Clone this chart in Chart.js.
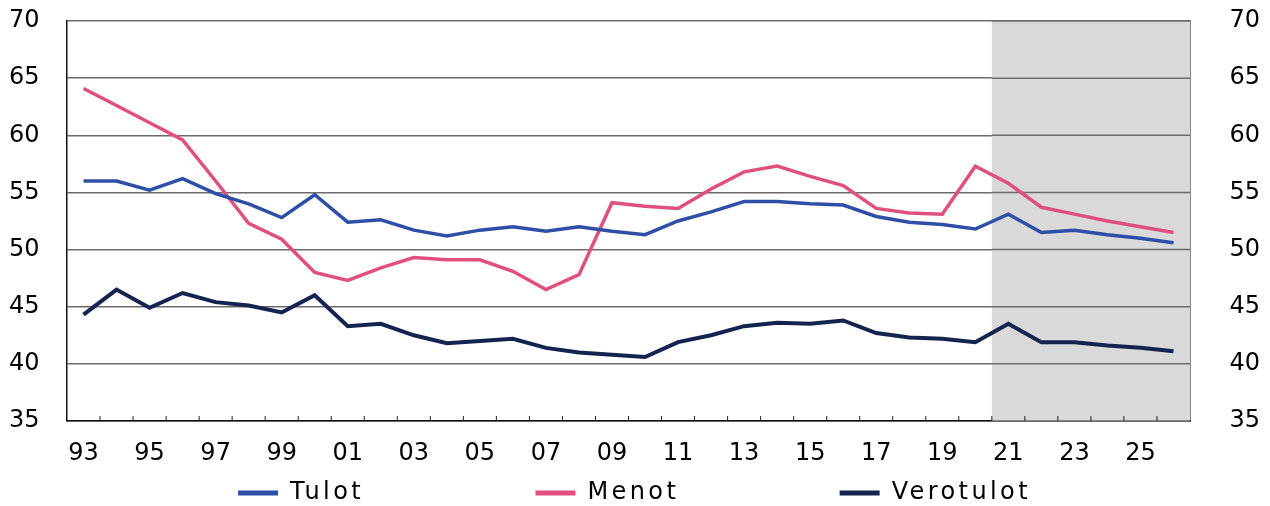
<!DOCTYPE html>
<html>
<head>
<meta charset="utf-8">
<script src="https://cdn.jsdelivr.net/npm/chart.js@4.4.1/dist/chart.umd.min.js"></script>
<style>
  html, body { margin: 0; padding: 0; background: #fff; }
  #wrap { width: 1270px; height: 506px; }
</style>
</head>
<body>
<div id="wrap"><canvas id="chart"></canvas></div>
<script>
const years = ["93","94","95","96","97","98","99","00","01","02","03","04","05","06","07","08","09",
  "10","11","12","13","14","15","16","17","18","19","20","21","22","23","24","25","26"];
const tulot = [56.0, 56.0, 55.2, 56.2, 54.9, 54.0, 52.8, 54.8, 52.4, 52.6, 51.7, 51.2, 51.7, 52.0, 51.6, 52.0, 51.6,
  51.3, 52.5, 53.3, 54.2, 54.2, 54.0, 53.9, 52.9, 52.4, 52.2, 51.8, 53.1, 51.5, 51.7, 51.3, 51.0, 50.6];
const menot = [64.1, 62.6, 61.1, 59.6, 56.0, 52.3, 50.9, 48.0, 47.3, 48.4, 49.3, 49.1, 49.1, 48.1, 46.5, 47.8, 54.1,
  53.8, 53.6, 55.3, 56.8, 57.3, 56.4, 55.6, 53.6, 53.2, 53.1, 57.3, 55.8, 53.7, 53.1, 52.5, 52.0, 51.5];
const verotulot = [44.3, 46.5, 44.9, 46.2, 45.4, 45.1, 44.5, 46.0, 43.3, 43.5, 42.5, 41.8, 42.0, 42.2, 41.4, 41.0, 40.8,
  40.6, 41.9, 42.5, 43.3, 43.6, 43.5, 43.8, 42.7, 42.3, 42.2, 41.9, 43.5, 41.9, 41.9, 41.6, 41.4, 41.1];
const yTicks = [35, 40, 45, 50, 55, 60, 65, 70];
const forecastFrom = "21";

const FONT = "'DejaVu Sans', sans-serif";
const legendGaps = [15, 14, 0]; // trailing spaces after each legend label
const LEGEND_SPACING = "3.4px";

// legend: wide letter spacing + fixed height; grey forecast band + inward ticks on x axis
const bandPlugin = {
  id: "band",
  beforeInit(chart) {
    const lg = chart.legend;
    const fit = lg.fit, draw = lg.draw;
    lg.fit = function () {
      this.ctx.save();
      this.ctx.letterSpacing = LEGEND_SPACING;
      fit.call(this);
      this.ctx.restore();
      this.height = 35;
    };
    lg.draw = function () {
      this.ctx.save();
      this.ctx.letterSpacing = LEGEND_SPACING;
      this.ctx.translate(0, 4);
      draw.call(this);
      this.ctx.restore();
    };
  },
  beforeDatasetsDraw(chart) {
    const { ctx, chartArea, scales } = chart;
    const x = scales.x;
    const i = years.indexOf(forecastFrom);
    const left = (x.getPixelForValue(i - 1) + x.getPixelForValue(i)) / 2;
    ctx.save();
    ctx.fillStyle = "#d9d9d9";
    ctx.fillRect(left, chartArea.top, chartArea.right - left, chartArea.bottom - chartArea.top);
    ctx.strokeStyle = "#6b6b6b";
    ctx.lineWidth = 1.5;
    scales.y.ticks.forEach(t => {
      const yy = scales.y.getPixelForValue(t.value);
      ctx.beginPath();
      ctx.moveTo(left, yy);
      ctx.lineTo(chartArea.right, yy);
      ctx.stroke();
    });
    ctx.strokeStyle = "#222";
    ctx.lineWidth = 1;
    for (let k = 1; k < years.length; k++) {
      const px = (x.getPixelForValue(k - 1) + x.getPixelForValue(k)) / 2;
      ctx.beginPath();
      ctx.moveTo(px, chartArea.bottom);
      ctx.lineTo(px, chartArea.bottom - 5);
      ctx.stroke();
    }
    ctx.restore();
  }
};

new Chart(document.getElementById("chart"), {
  type: "line",
  data: {
    labels: years,
    datasets: [
      { label: "Tulot", data: tulot, borderColor: "#2f4fa6", backgroundColor: "#2f4fa6", borderWidth: 3.5 },
      { label: "Menot", data: menot, borderColor: "#e0507f", backgroundColor: "#e0507f", borderWidth: 3.5 },
      { label: "Verotulot", data: verotulot, borderColor: "#14244f", backgroundColor: "#14244f", borderWidth: 4 }
    ]
  },
  options: {
    responsive: true,
    maintainAspectRatio: false,
    animation: false,
    devicePixelRatio: 1,
    layout: { padding: { top: 21, left: 9, right: 10, bottom: 0 } },
    elements: { point: { radius: 0 }, line: { tension: 0 } },
    plugins: {
      tooltip: { enabled: false },
      legend: {
        position: "bottom",
        labels: {
          boxWidth: 40,
          boxHeight: 5,
          padding: 6,
          color: "#000",
          font: { family: FONT, size: 24 },
          generateLabels(chart) {
            return chart.data.datasets.map((d, i) => ({
              text: d.label + " ".repeat(legendGaps[i]),
              fillStyle: d.borderColor,
              strokeStyle: d.borderColor,
              lineWidth: 0,
              datasetIndex: i
            }));
          }
        }
      }
    },
    scales: {
      x: {
        offset: true,
        grid: { display: false, offset: true, drawTicks: false },
        border: { display: true, color: "#111", width: 1.5 },
        afterFit: s => { s.height = 50; },
        ticks: {
          autoSkip: false,
          maxRotation: 0,
          padding: 18,
          color: "#000",
          font: { family: FONT, size: 24 },
          callback: (v, i) => (i % 2 === 0 ? years[i] : "")
        }
      },
      y: {
        position: "left",
        min: 35,
        max: 70,
        afterBuildTicks: s => { s.ticks = yTicks.map(v => ({ value: v })); },
        afterFit: s => { s.width = 58; },
        grid: { color: "#6b6b6b", lineWidth: 1.5, drawTicks: false },
        border: { display: true, color: "#111", width: 1.5 },
        ticks: { padding: 0, crossAlign: "far", color: "#000", font: { family: FONT, size: 24 } }
      },
      y2: {
        position: "right",
        min: 35,
        max: 70,
        afterBuildTicks: s => { s.ticks = yTicks.map(v => ({ value: v })); },
        afterFit: s => { s.width = 70; },
        grid: { drawOnChartArea: false, drawTicks: false },
        border: { display: true, color: "#111", width: 1.5 },
        ticks: { padding: 0, crossAlign: "far", color: "#000", font: { family: FONT, size: 24 } }
      }
    }
  },
  plugins: [bandPlugin]
});
</script>
</body>
</html>
